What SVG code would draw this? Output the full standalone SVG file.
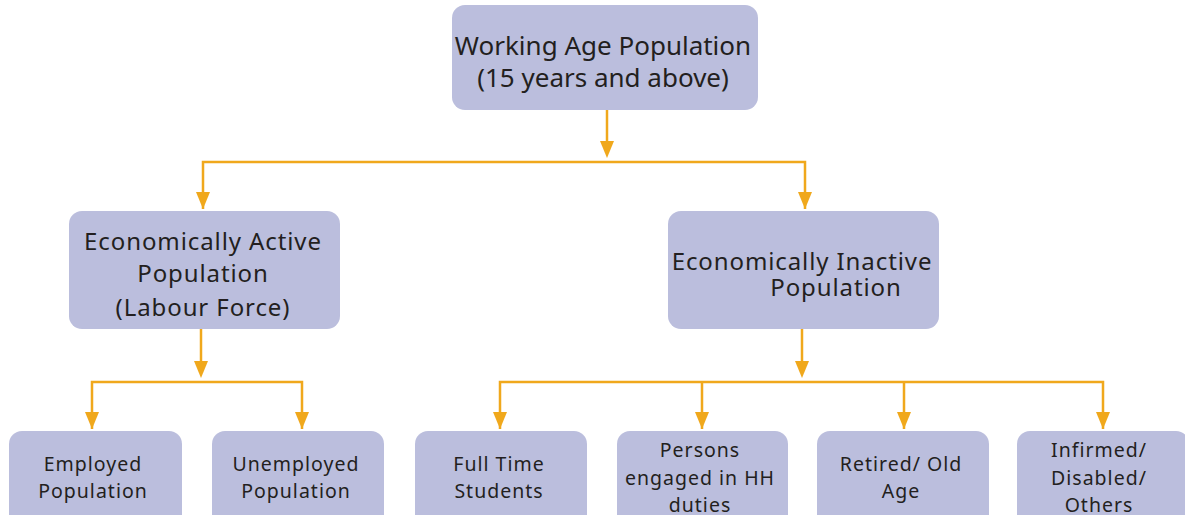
<svg xmlns="http://www.w3.org/2000/svg" width="1185" height="515" viewBox="0 0 1185 515">
<style>
.box{fill:#BBBEDD;}
.t{font-family:"Noto Sans",Lato,sans-serif;fill:#231F20;text-anchor:middle;}
.l{font-size:26px;}
.m{font-size:24px;letter-spacing:0.9px;}
.s{font-size:19.5px;letter-spacing:1px;}
.c{fill:none;stroke:#F0A81C;stroke-width:2.5;}
.h{fill:#F0A81C;}
</style>
<rect width="1185" height="515" fill="#fff"/>
<g id="connectors">
<path class="c" d="M607,110 V141"/>
<path class="h" d="M600,141 L614,141 L607,158 Z"/>
<path class="c" d="M203,209 V162 H805 V209"/>
<path class="h" d="M196,192 L210,192 L203,209 Z"/>
<path class="h" d="M798,192 L812,192 L805,209 Z"/>
<path class="c" d="M201,329 V362"/>
<path class="h" d="M194,361 L208,361 L201,378 Z"/>
<path class="c" d="M92,429 V382 H302 V429"/>
<path class="h" d="M85,412 L99,412 L92,429 Z"/>
<path class="h" d="M295,412 L309,412 L302,429 Z"/>
<path class="c" d="M802,329 V362"/>
<path class="h" d="M795,361 L809,361 L802,378 Z"/>
<path class="c" d="M500,429 V382 H1103 V429 M702,382 V429 M904,382 V429"/>
<path class="h" d="M493,412 L507,412 L500,429 Z"/>
<path class="h" d="M695,412 L709,412 L702,429 Z"/>
<path class="h" d="M897,412 L911,412 L904,429 Z"/>
<path class="h" d="M1096,412 L1110,412 L1103,429 Z"/>
</g>
<g id="n_working">
<rect class="box" x="452" y="5" width="306" height="105" rx="13"/>
<text class="t l" x="603" y="55">Working Age Population</text>
<text class="t l" x="603" y="87">(15 years and above)</text>
</g>
<g id="n_active">
<rect class="box" x="69" y="211" width="271" height="118" rx="13"/>
<text class="t m" x="203" y="250">Economically Active</text>
<text class="t m" x="203" y="282">Population</text>
<text class="t m" x="203" y="316">(Labour Force)</text>
</g>
<g id="n_inactive">
<rect class="box" x="668" y="211" width="271" height="118" rx="13"/>
<text class="t m" x="802" y="270">Economically Inactive</text>
<text class="t m" x="836" y="296">Population</text>
</g>
<g id="n_employed">
<rect class="box" x="9" y="431" width="173" height="100" rx="13"/>
<text class="t s" x="93" y="471">Employed</text>
<text class="t s" x="93" y="498">Population</text>
</g>
<g id="n_unemployed">
<rect class="box" x="212" y="431" width="172" height="100" rx="13"/>
<text class="t s" x="296" y="471">Unemployed</text>
<text class="t s" x="296" y="498">Population</text>
</g>
<g id="n_students">
<rect class="box" x="415" y="431" width="172" height="100" rx="13"/>
<text class="t s" x="499" y="471">Full Time</text>
<text class="t s" x="499" y="498">Students</text>
</g>
<g id="n_hh">
<rect class="box" x="617" y="431" width="171" height="100" rx="13"/>
<text class="t s" x="700" y="457">Persons</text>
<text class="t s" x="700" y="485">engaged in HH</text>
<text class="t s" x="700" y="512">duties</text>
</g>
<g id="n_retired">
<rect class="box" x="817" y="431" width="172" height="100" rx="13"/>
<text class="t s" x="901" y="471">Retired/ Old</text>
<text class="t s" x="901" y="498">Age</text>
</g>
<g id="n_infirmed">
<rect class="box" x="1017" y="431" width="172" height="100" rx="13"/>
<text class="t s" x="1099" y="457">Infirmed/</text>
<text class="t s" x="1099" y="485">Disabled/</text>
<text class="t s" x="1099" y="512">Others</text>
</g>
</svg>
